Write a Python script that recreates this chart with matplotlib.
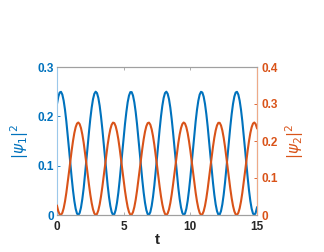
"""
Populations |psi_1|^2 and |psi_2|^2 versus time, two y axes
"""
import numpy as np
import matplotlib.pyplot as plt

plt.rcParams['font.family'] = ['Liberation Sans', 'DejaVu Sans']
plt.rcParams['mathtext.fontset'] = 'dejavusans'

BLUE = '#0072BD'
ORANGE = '#D95319'

# values, t in steps of 0.1
t = np.arange(151) * 0.1
psi1_sq = [0.2251, 0.2399, 0.2483, 0.2497, 0.2441, 0.2317, 0.2134, 0.1900, 0.1630, 0.1339,
           0.1043, 0.0758, 0.0500, 0.0286, 0.0126, 0.0029, 0.0000, 0.0043, 0.0153, 0.0325,
           0.0543, 0.0814, 0.1102, 0.1398, 0.1687, 0.1953, 0.2175, 0.2347, 0.2457, 0.2500,
           0.2471, 0.2374, 0.2214, 0.1998, 0.1743, 0.1457, 0.1161, 0.0870, 0.0600, 0.0366,
           0.0183, 0.0059, 0.0003, 0.0017, 0.0101, 0.0250, 0.0451, 0.0704, 0.0985, 0.1280,
           0.1573, 0.1848, 0.2085, 0.2285, 0.2421, 0.2491, 0.2491, 0.2421, 0.2285, 0.2091,
           0.1848, 0.1574, 0.1280, 0.0985, 0.0704, 0.0454, 0.0250, 0.0101, 0.0017, 0.0003,
           0.0059, 0.0183, 0.0366, 0.0600, 0.0870, 0.1161, 0.1457, 0.1742, 0.2000, 0.2214,
           0.2374, 0.2471, 0.2500, 0.2457, 0.2347, 0.2175, 0.1950, 0.1687, 0.1398, 0.1102,
           0.0813, 0.0549, 0.0325, 0.0153, 0.0043, 0.0000, 0.0029, 0.0126, 0.0286, 0.0502,
           0.0758, 0.1043, 0.1339, 0.1631, 0.1900, 0.2134, 0.2317, 0.2441, 0.2497, 0.2483,
           0.2399, 0.2251, 0.2046, 0.1797, 0.1516, 0.1220, 0.0927, 0.0652, 0.0410, 0.0215,
           0.0079, 0.0009, 0.0009, 0.0079, 0.0215, 0.0409, 0.0652, 0.0927, 0.1220, 0.1516,
           0.1796, 0.2046, 0.2250, 0.2399, 0.2483, 0.2497, 0.2441, 0.2317, 0.2134, 0.1900,
           0.1630, 0.1339, 0.1043, 0.0758, 0.0500, 0.0286, 0.0126, 0.0029, 0.0000, 0.0043,
           0.0153]
psi2_sq = [0.0249, 0.0101, 0.0017, 0.0003, 0.0059, 0.0183, 0.0366, 0.0600, 0.0870, 0.1161,
           0.1457, 0.1742, 0.2000, 0.2214, 0.2374, 0.2471, 0.2500, 0.2457, 0.2347, 0.2175,
           0.1957, 0.1686, 0.1398, 0.1102, 0.0813, 0.0547, 0.0325, 0.0153, 0.0043, 0.0000,
           0.0029, 0.0126, 0.0286, 0.0502, 0.0757, 0.1043, 0.1339, 0.1630, 0.1900, 0.2134,
           0.2317, 0.2441, 0.2497, 0.2483, 0.2399, 0.2250, 0.2049, 0.1796, 0.1515, 0.1220,
           0.0927, 0.0652, 0.0415, 0.0215, 0.0079, 0.0009, 0.0009, 0.0079, 0.0215, 0.0409,
           0.0652, 0.0926, 0.1220, 0.1515, 0.1796, 0.2046, 0.2250, 0.2399, 0.2483, 0.2497,
           0.2441, 0.2317, 0.2134, 0.1900, 0.1630, 0.1339, 0.1043, 0.0758, 0.0500, 0.0286,
           0.0126, 0.0029, 0.0000, 0.0043, 0.0153, 0.0325, 0.0550, 0.0813, 0.1102, 0.1398,
           0.1687, 0.1951, 0.2175, 0.2347, 0.2457, 0.2500, 0.2471, 0.2374, 0.2214, 0.1998,
           0.1742, 0.1457, 0.1161, 0.0869, 0.0600, 0.0366, 0.0183, 0.0059, 0.0003, 0.0017,
           0.0101, 0.0249, 0.0454, 0.0703, 0.0984, 0.1280, 0.1573, 0.1848, 0.2090, 0.2285,
           0.2421, 0.2491, 0.2491, 0.2421, 0.2285, 0.2091, 0.1848, 0.1573, 0.1280, 0.0984,
           0.0704, 0.0454, 0.0250, 0.0101, 0.0017, 0.0003, 0.0059, 0.0183, 0.0366, 0.0600,
           0.0870, 0.1161, 0.1457, 0.1742, 0.2000, 0.2214, 0.2374, 0.2471, 0.2500, 0.2457,
           0.2347]

fig = plt.figure(figsize=(3.24, 2.52), dpi=100)
ax1 = fig.add_axes([57 / 324, 1 - 215 / 252, 200 / 324, 148 / 252])
ax2 = ax1.twinx()

ax1.plot(t, psi1_sq, color=BLUE, lw=1.5)
ax2.plot(t, psi2_sq, color=ORANGE, lw=1.5)

ax1.set_xlim(0, 15)
ax1.set_ylim(0, 0.3)
ax2.set_ylim(0, 0.4)
ax1.set_xticks([0, 5, 10, 15])
ax1.set_yticks([0, 0.1, 0.2, 0.3])
ax2.set_yticks([0, 0.1, 0.2, 0.3, 0.4])
ax1.set_yticklabels(['0', '0.1', '0.2', '0.3'])
ax2.set_yticklabels(['0', '0.1', '0.2', '0.3', '0.4'])

for ax in (ax1, ax2):
    for s in ax.spines.values():
        s.set_linewidth(0.8)
        s.set_color('#a0a0a0')
ax1.spines['left'].set_color('#9cc8ea')
ax2.spines['right'].set_color('#eeaa88')
ax2.spines['left'].set_visible(False)

ax1.tick_params(axis='x', direction='in', length=2.5, width=0.6, color='#a0a0a0',
                top=True, labelsize=8.5, labelcolor='#262626', pad=4.5)
ax1.tick_params(axis='y', direction='in', length=2.5, width=0.6, color=BLUE,
                labelsize=8.5, labelcolor=BLUE, pad=2)
ax2.tick_params(axis='y', direction='in', length=2.5, width=0.6, color=ORANGE,
                labelsize=8.5, labelcolor=ORANGE, pad=3)
for lab in ax1.get_xticklabels() + ax1.get_yticklabels() + ax2.get_yticklabels():
    lab.set_fontweight('bold')

ax1.set_xlabel('t', fontsize=11, fontweight='bold', color='#262626', labelpad=0)
ax1.set_ylabel(r'$|\psi_1|^2$', fontsize=11, color=BLUE, labelpad=5)
ax2.set_ylabel(r'$|\psi_2|^2$', fontsize=11, color=ORANGE, labelpad=4)

fig.savefig('out.png', dpi=100)
